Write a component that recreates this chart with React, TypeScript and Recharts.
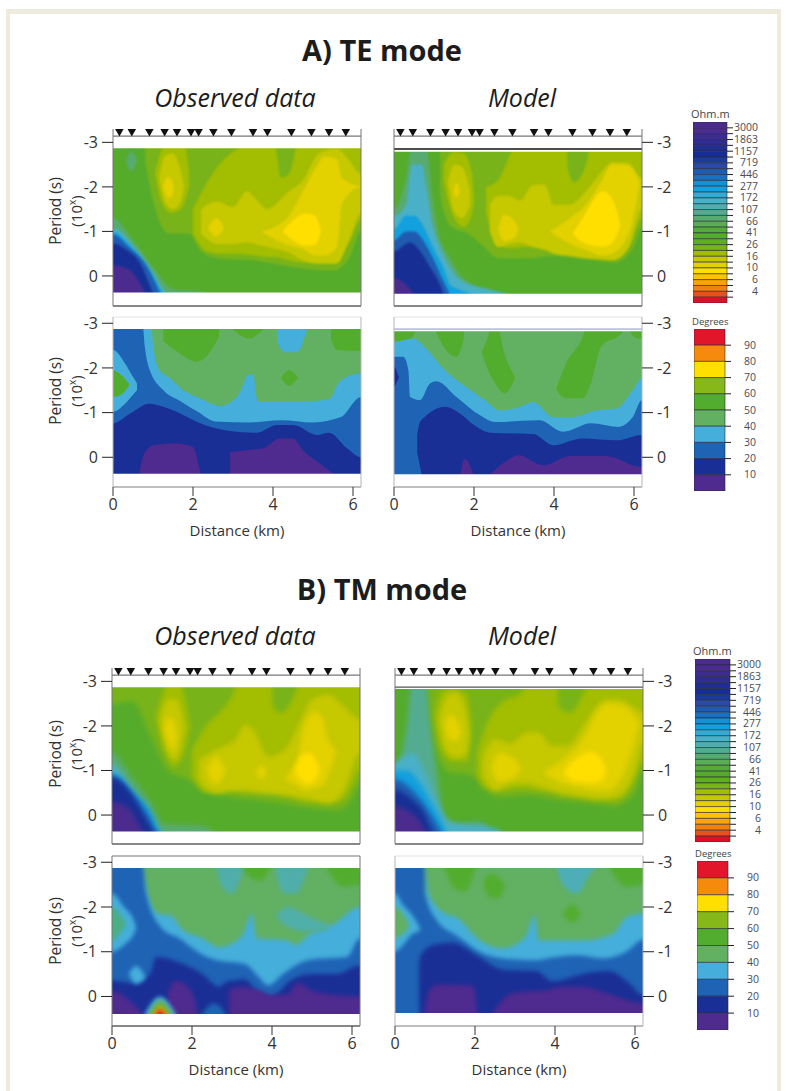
import React from 'react';
import { Area, Bar, BarChart, ComposedChart, ReferenceArea, ReferenceLine, Scatter, XAxis, YAxis } from 'recharts';

type Pt = [number, number, number];
type Band = { level: number; pts: Pt[]; alpha?: number };

const FONT = '"Open Sans", sans-serif';
const T = -3.2; // field edges are masked, so bands may run past them
const B = 0.6;

const stations = [0.16, 0.47, 0.91, 1.29, 1.6, 1.95, 2.14, 2.51, 2.96, 3.5, 3.86, 4.46, 4.96, 5.4, 5.82];
const periodTicks = [-3, -2, -1, 0];
const minorTicks = [-2.7, -2.52, -2.4, -2.3, -2.22, -2.15, -2.1, -1.7, -1.52, -1.4, -1.3, -1.22, -1.15, -1.1, -0.7, -0.52, -0.4, -0.3, -0.22, -0.15, -0.1, 0.3, 0.48, 0.6];
const distanceTicks = [0, 2, 4, 6];

const ohmColors = ['#4b2c8e', '#4b2c8e', '#3d2c90', '#2f2d90', '#1f2e90', '#172f95', '#1a3a9c', '#2a4aa5', '#1f5cb0', '#1a70c0', '#1390d6', '#12a0de', '#35aad4', '#4ab0c8', '#50aeb0', '#54ac90', '#58ab70', '#5aac55', '#55ab3a', '#55ac2b', '#5fae20', '#78b31a', '#a3bd00', '#c6c800', '#e3d100', '#ffdf00', '#ffc400', '#f9a40a', '#f08212', '#e8501c', '#dc1026'];
const ohmLabels = ['3000', '1863', '1157', '719', '446', '277', '172', '107', '66', '41', '26', '16', '10', '6', '4'];
const degColors = ['#e2162b', '#f58a0c', '#ffdf00', '#86b81a', '#52ad2f', '#62b062', '#45aedb', '#1f63b5', '#1a2f96', '#4f2a8f'];
const degLabels = ['90', '80', '70', '60', '50', '40', '30', '20', '10'];

// resistivity levels, as cells of the Ohm.m scale
const PURPLE = 0, NAVY = 5, BLUE = 8, SKY = 11, CYAN = 13, TURQ = 15, TEAL = 16, GREEN = 19, HALO = 21, LIME = 22, OLIVE = 23, GOLD = 24, YELLOW = 25;
// phase levels, as cells of the Degrees scale
const P_RED = 0, P_ORANGE = 1, P_LIME = 3, P_GREEN = 4, P_LIGHT = 5, P_CYAN = 6, P_BLUE = 7, P_NAVY = 8, P_PURPLE = 9;

const teObsRes: Band[] = [
  { level: GREEN, pts: [[0, T, B], [6.2, T, B]] },
  { level: HALO, pts: [[0.8, T, -2.6], [1, T, -1.7], [1.4, T, -0.95], [1.9, T, -0.95], [2.2, T, -0.55], [2.6, T, -0.4], [3.5, T, -0.35], [4.5, T, -0.2], [5.5, T, -0.12], [5.9, T, -0.4], [6.2, T, -1]] },
  { level: LIME, pts: [[1.05, -2.3, -2.3], [1.2, -2.8, -1.7], [1.45, T, -1.42], [1.7, T, -1.5], [1.9, -2.4, -2]] },
  { level: LIME, pts: [[2, -1.5, -0.95], [2.35, -2.1, -0.55], [2.7, -2.55, -0.5], [3.1, -2.85, -0.5], [4, T, -0.42], [4.1, -2.7, -0.42], [4.2, -2.2, -0.4], [4.4, -2.3, -0.35], [4.7, T, -0.3], [5.5, T, -0.28], [5.9, T, -0.75], [6.2, T, -1.25]] },
  { level: OLIVE, pts: [[1.15, -2.2, -2.2], [1.3, -2.7, -1.65], [1.5, -2.75, -1.5], [1.65, -2.5, -1.6], [1.78, -2, -2]] },
  { level: OLIVE, pts: [[2.2, -1.5, -0.95], [2.6, -1.67, -0.72], [3, -1.55, -0.72], [3.35, -1.9, -0.75], [3.6, -1.7, -0.7], [3.85, -1.5, -0.65], [4.4, -1.9, -0.52], [4.75, -2.15, -0.35], [5.15, -2.75, -0.28], [5.6, -2.85, -0.28], [5.9, -2.6, -0.8], [6.2, -2.3, -1.4]] },
  { level: GOLD, pts: [[1.25, -2, -2], [1.37, -2.23, -1.75], [1.5, -2.1, -1.8], [1.52, -2, -2]] },
  { level: GOLD, pts: [[2.38, -1.08, -1.08], [2.58, -1.3, -0.88], [2.78, -1.08, -1.08]] },
  { level: GOLD, pts: [[3.7, -1, -1], [4.3, -1.25, -0.72], [4.75, -1.9, -0.6], [5.05, -2.4, -0.46], [5.3, -2.68, -0.46], [5.6, -2.62, -0.65], [5.73, -2.2, -1.63], [6.2, -2.02, -2]] },
  { level: YELLOW, pts: [[4.24, -1, -1], [4.5, -1.25, -0.8], [4.8, -1.4, -0.68], [5.05, -1.35, -0.7], [5.2, -1, -1]] },
  { level: TEAL, pts: [[0.33, -2.6, -2.6], [0.45, -2.8, -2.35], [0.6, -2.6, -2.6]] },
  { level: TEAL, pts: [[0, -1.3, B], [0.5, -0.8, B], [1, -0.2, B], [1.5, 0.3, B], [2.2, 0.36, B], [2.6, 0.45, B]] },
  { level: CYAN, pts: [[0, -1.07, B], [0.52, -0.65, B], [0.89, -0.2, B], [1.26, 0.32, B], [1.35, 0.45, B]] },
  { level: SKY, pts: [[0, -0.98, B], [0.47, -0.65, B], [0.85, -0.24, B], [1.2, 0.32, B], [1.28, 0.45, B]] },
  { level: BLUE, pts: [[0, -0.92, B], [0.43, -0.62, B], [0.8, -0.28, B], [1.14, 0.32, B], [1.2, 0.45, B]] },
  { level: NAVY, pts: [[0, -0.73, B], [0.35, -0.58, B], [0.68, -0.28, B], [0.97, 0.32, B], [1.03, 0.45, B]] },
  { level: PURPLE, pts: [[0, -0.24, B], [0.43, -0.13, B], [0.68, 0.17, B], [0.8, 0.36, B], [0.85, 0.45, B]] },
];

const teModRes: Band[] = [
  { level: GREEN, pts: [[0, T, B], [6.2, T, B]] },
  { level: HALO, pts: [[1.15, T, -2], [1.2, T, -1.6], [1.45, T, -1.1], [1.85, T, -0.95], [2.2, T, -0.7], [2.6, T, -0.4], [3.3, T, -0.4], [4, T, -0.45], [5, T, -0.35], [5.5, T, -0.3], [6, T, -0.65], [6.2, T, -1.1]] },
  { level: LIME, pts: [[1.25, -2.5, -2.1], [1.5, -2.79, -1.3], [1.75, -2.75, -1.1], [1.95, -2.3, -1.4], [2, -1.8, -1.7]] },
  { level: LIME, pts: [[2.3, -2, -1.4], [2.6, -2.15, -0.7], [2.95, -2.8, -0.62], [3.3, T, -0.65], [4.3, T, -0.65], [4.35, -2.4, -0.65], [4.5, -2.1, -0.6], [4.8, -2.5, -0.55], [5, T, -0.5], [5.5, T, -0.45], [5.95, T, -0.8], [6.2, T, -1.3]] },
  { level: OLIVE, pts: [[1.35, -2.1, -2.1], [1.5, -2.5, -1.45], [1.7, -2.45, -1.3], [1.9, -1.9, -1.6]] },
  { level: OLIVE, pts: [[2.4, -1.6, -1], [2.6, -1.8, -0.65], [2.85, -1.8, -0.7], [3.15, -1.7, -0.75], [3.48, -2.05, -0.65], [3.77, -2.05, -0.58], [4, -1.6, -0.5], [4.4, -1.6, -0.45], [4.8, -1.9, -0.4], [5.2, -2.35, -0.37], [5.45, -2.55, -0.35], [5.85, -2.55, -0.6], [6.2, -2.2, -1.5]] },
  { level: GOLD, pts: [[1.48, -1.9, -1.9], [1.56, -2.1, -1.75], [1.65, -1.9, -1.9]] },
  { level: GOLD, pts: [[2.6, -1.05, -1.05], [2.75, -1.38, -0.78], [3, -1.25, -0.85], [3.12, -1.05, -1.05]] },
  { level: GOLD, pts: [[3.9, -1, -1], [4.4, -1.3, -0.72], [4.8, -1.6, -0.58], [5.2, -2.15, -0.46], [5.45, -2.5, -0.5], [5.85, -2.48, -0.9], [6.15, -2.1, -2.1]] },
  { level: YELLOW, pts: [[4.46, -0.95, -0.95], [4.72, -1.3, -0.75], [5.22, -1.9, -0.65], [5.47, -1.7, -0.75], [5.65, -1.2, -1.1]] },
  { level: TEAL, pts: [[0, -1.5, B], [0.3, -2.2, B], [0.45, -2.9, B], [0.8, -2.9, B], [0.95, -1.8, B], [1.1, -1, B], [1.4, -0.4, B], [1.8, 0.1, B], [2.4, 0.3, B], [3, 0.45, B]] },
  { level: CYAN, pts: [[0, -1.35, B], [0.3, -1.6, B], [0.45, -2.5, B], [0.7, -2.5, B], [0.8, -2, B], [0.95, -1.2, B], [1.2, -0.55, B], [1.5, -0.05, B], [1.9, 0.2, B], [2.3, 0.3, B], [2.9, 0.42, B]] },
  { level: SKY, pts: [[0, -1.05, B], [0.3, -1.35, B], [0.5, -1.35, B], [0.8, -1, B], [1, -0.6, B], [1.25, -0.15, B], [1.4, 0.2, B], [1.7, 0.33, B], [2, 0.42, B]] },
  { level: BLUE, pts: [[0, -0.8, B], [0.3, -1, B], [0.5, -1, B], [0.8, -0.7, B], [1, -0.35, B], [1.2, 0.05, B], [1.4, 0.42, B]] },
  { level: NAVY, pts: [[0, -0.55, B], [0.4, -0.75, B], [0.7, -0.5, B], [0.9, -0.2, B], [1.1, 0.1, B], [1.25, 0.42, B]] },
  { level: PURPLE, pts: [[0, 0.05, B], [0.3, 0.2, B], [0.5, 0.42, B]] },
];

const teObsDeg: Band[] = [
  { level: P_LIGHT, pts: [[0, T, B], [6.2, T, B]] },
  { level: P_GREEN, pts: [[1.26, T, -2.6], [1.6, T, -2.37], [2.1, T, -2.14], [2.4, T, -2.33], [2.65, T, -2.7]] },
  { level: P_GREEN, pts: [[3, T, -2.85], [3.4, T, -2.66], [3.75, T, -2.85]] },
  { level: P_GREEN, pts: [[5.45, T, -2.65], [5.6, T, -2.4], [6.2, T, -2.38]] },
  { level: P_GREEN, pts: [[4.2, -1.78, -1.78], [4.4, -1.95, -1.6], [4.63, -1.78, -1.78]] },
  { level: P_CYAN, pts: [[0.72, T, B], [0.93, T, B], [1, -2.55, B], [1.14, -1.99, B], [1.43, -1.77, B], [1.76, -1.5, B], [2.18, -1.32, B], [2.68, -1.15, B], [3.13, -1.39, B], [3.38, -1.84, B], [3.5, -1.86, B], [3.63, -1.24, B], [4.6, -1.24, B], [5.4, -1.3, B], [5.67, -1.7, B], [6.2, -1.88, B]] },
  { level: P_CYAN, pts: [[4.1, -2.87, -2.6], [4.3, -2.87, -2.35], [4.6, -2.87, -2.35], [4.85, -2.87, -2.87]] },
  { level: P_BLUE, pts: [[0, T, B], [0.72, T, B], [0.8, -2.45, B], [0.9, -2, B], [1.26, -1.5, B], [1.7, -1.25, B], [2.15, -1, B], [2.55, -0.8, B], [3.4, -0.78, B], [4.2, -0.83, B], [5, -0.78, B], [5.7, -0.9, B], [6.2, -1.35, B]] },
  { level: P_CYAN, pts: [[0, -2.4, -1.02], [0.3, -2.1, -1.2], [0.5, -1.8, -1.4], [0.6, -1.65, -1.5]] },
  { level: P_GREEN, pts: [[0, -1.95, -1.35], [0.2, -1.85, -1.4], [0.4, -1.65, -1.6]] },
  { level: P_NAVY, pts: [[0, -0.76, B], [0.43, -0.98, B], [0.9, -1.2, B], [1.26, -1.13, B], [1.68, -0.98, B], [2.18, -0.76, B], [2.84, -0.6, B], [3.6, -0.55, B], [4.1, -0.72, B], [4.5, -0.72, B], [5.1, -0.5, B], [5.4, -0.55, B], [5.85, -0.2, B], [6.2, 0, B]] },
  { level: P_PURPLE, pts: [[0.65, 0.4, B], [0.78, -0.08, B], [1.02, -0.27, B], [1.6, -0.31, B], [2, -0.23, B], [2.13, 0.14, B], [2.2, 0.4, B]] },
  { level: P_PURPLE, pts: [[2.93, -0.12, B], [3.34, -0.16, B], [3.75, -0.2, B], [4.17, -0.42, B], [4.5, -0.42, B], [4.75, -0.16, B], [5.17, 0.14, B], [5.55, 0.4, B]] },
];

const teModDeg: Band[] = [
  { level: P_LIGHT, pts: [[0, T, B], [6.2, T, B]] },
  { level: P_GREEN, pts: [[0, T, -2.6], [0.4, T, -2.65], [0.7, T, T]] },
  { level: P_GREEN, pts: [[1.03, T, -2.85], [1.3, T, -2.4], [1.55, T, -2.25], [1.73, T, -2.6], [1.78, T, T]] },
  { level: P_GREEN, pts: [[2.19, -2.36, -2.36], [2.35, -2.7, -1.95], [2.5, T, -1.7], [2.77, -2.3, -1.43], [3.02, -1.8, -1.75]] },
  { level: P_GREEN, pts: [[4.06, -1.54, -1.5], [4.3, -2.1, -1.32], [4.72, -2.7, -1.32], [4.9, T, -1.6], [5.18, T, -2.48], [5.7, T, -2.78], [5.75, T, T]] },
  { level: P_GREEN, pts: [[5.75, T, T], [6, T, -2.7], [6.2, T, -2.65]] },
  { level: P_CYAN, pts: [[0, -2.58, B], [0.48, -2.66, B], [0.8, -2.44, B], [1.23, -1.99, B], [1.8, -1.58, B], [2.27, -1.28, B], [2.65, -1.05, B], [3.15, -1.13, B], [3.48, -1.24, B], [3.98, -0.9, B], [4.4, -0.89, B], [5.06, -1.05, B], [5.56, -1.09, B], [5.97, -1.5, B], [6.2, -1.77, B]] },
  { level: P_BLUE, pts: [[0, -2.25, B], [0.23, -2.25, B], [0.36, -1.95, B], [0.4, -1.35, B], [0.65, -1.28, B], [0.9, -1.65, B], [1.06, -1.7, B], [1.56, -1.35, B], [2.15, -0.94, B], [2.52, -0.79, B], [3.64, -0.83, B], [4.23, -0.57, B], [4.93, -0.76, B], [5.6, -0.68, B], [5.97, -0.9, B], [6.2, -1.28, B]] },
  { level: P_NAVY, pts: [[0, -2.03, -1.58], [0.08, -1.9, -1.7], [0.12, -1.8, -1.78]] },
  { level: P_NAVY, pts: [[0.58, -0.5, -0.1], [0.65, -0.79, 0.2], [0.77, -0.9, B], [0.9, -1, B], [1.27, -1.13, B], [1.65, -0.98, B], [2, -0.72, B], [2.4, -0.55, B], [3.48, -0.52, B], [3.98, -0.27, B], [4.72, -0.42, B], [5.56, -0.38, B], [6.2, -0.5, B]] },
  { level: P_PURPLE, pts: [[1.65, 0.42, B], [1.77, 0.03, B], [2, 0.42, B]] },
  { level: P_PURPLE, pts: [[2.35, 0.42, B], [2.9, 0.03, B], [3.1, -0.05, B], [3.73, 0.18, B], [4.4, -0.03, B], [5.3, -0.03, B], [6.2, 0.22, B]] },
];

const tmObsRes: Band[] = [
  { level: GREEN, pts: [[0, T, B], [6.2, T, B]] },
  { level: HALO, pts: [[0, T, -2.5], [0.5, T, -2.55], [1, T, -1.7], [1.4, T, -1], [1.9, T, -0.8], [2.3, T, -0.55], [3, T, -0.4], [4, T, -0.3], [5, T, -0.15], [5.6, T, -0.1], [6, T, -0.35], [6.2, T, -0.7]] },
  { level: LIME, pts: [[1.1, -2.2, -2.2], [1.3, -2.8, -1.5], [1.55, T, -1.1], [1.8, -2.7, -1.4], [1.95, -2, -2]] },
  { level: LIME, pts: [[2, -1.46, -0.9], [2.35, -2, -0.5], [2.75, -2.36, -0.55], [3, -2.66, -0.55], [3.25, T, -0.5], [4, T, -0.5], [4.03, -2.44, -0.5], [4.24, -2.29, -0.45], [4.5, -2.58, -0.4], [4.8, T, -0.3], [5.7, T, -0.3], [6, T, -0.65], [6.2, T, -1]] },
  { level: OLIVE, pts: [[1.2, -2.1, -2.1], [1.4, -2.6, -1.4], [1.6, -2.6, -1.25], [1.8, -2, -2]] },
  { level: OLIVE, pts: [[2.18, -1.24, -0.79], [2.6, -1.46, -0.49], [3.1, -1.7, -0.56], [3.33, -2.03, -0.56], [3.58, -1.84, -0.52], [3.9, -1.31, -0.49], [4.32, -1.46, -0.45], [4.65, -1.99, -0.41], [5, -2.59, -0.35], [5.4, -2.7, -0.26], [5.8, -2.44, -0.56], [6.2, -2.14, -1.39]] },
  { level: GOLD, pts: [[1.3, -1.9, -1.9], [1.42, -2.2, -1.6], [1.55, -2.1, -1.45], [1.62, -1.8, -1.8]] },
  { level: GOLD, pts: [[2.35, -1, -1], [2.6, -1.3, -0.7], [2.85, -1, -1]] },
  { level: GOLD, pts: [[3.58, -1, -1], [3.75, -1.1, -0.8], [3.87, -0.95, -0.95]] },
  { level: GOLD, pts: [[4.32, -0.85, -0.8], [4.65, -1.31, -0.65], [4.8, -1.99, -0.55], [5.06, -2.32, -0.6], [5.27, -2.2, -0.67], [5.35, -1.84, -0.8], [5.6, -1.46, -1.4]] },
  { level: YELLOW, pts: [[4.55, -1, -1], [4.75, -1.35, -0.75], [4.95, -1.4, -0.7], [5.2, -1, -1]] },
  { level: TEAL, pts: [[0, -1.4, B], [0.5, -0.85, B], [1, -0.25, B], [1.3, 0.2, B], [2.3, 0.25, B], [2.6, 0.45, B]] },
  { level: CYAN, pts: [[0, -1.13, B], [0.45, -0.64, B], [0.86, -0.11, B], [1.23, 0.37, B], [1.3, 0.45, B]] },
  { level: SKY, pts: [[0, -0.94, B], [0.53, -0.52, B], [0.99, -0.04, B], [1.19, 0.37, B], [1.25, 0.45, B]] },
  { level: BLUE, pts: [[0, -0.88, B], [0.53, -0.47, B], [0.9, 0, B], [1.11, 0.37, B], [1.17, 0.45, B]] },
  { level: NAVY, pts: [[0, -0.83, B], [0.53, -0.41, B], [0.82, 0.04, B], [1.03, 0.37, B], [1.09, 0.45, B]] },
  { level: PURPLE, pts: [[0, -0.3, B], [0.37, -0.19, B], [0.62, 0.11, B], [0.78, 0.37, B], [0.83, 0.45, B]] },
];

const tmModRes: Band[] = [
  { level: GREEN, pts: [[0, T, B], [6.2, T, B]] },
  { level: HALO, pts: [[0.8, T, -2.4], [1, T, -1.5], [1.4, T, -0.95], [1.9, T, -0.9], [2.2, T, -0.6], [2.6, T, -0.4], [3.3, T, -0.45], [4, T, -0.35], [5, T, -0.25], [5.5, T, -0.2], [6, T, -0.5], [6.2, T, -1]] },
  { level: LIME, pts: [[0.98, -2.2, -2.2], [1.15, -2.75, -1.5], [1.45, -2.85, -1.2], [1.8, -2.7, -1.2], [1.9, -2.1, -1.7]] },
  { level: LIME, pts: [[2.05, -1.4, -0.9], [2.3, -2.05, -0.6], [2.7, -2.55, -0.55], [3.1, -2.7, -0.6], [3.6, T, -0.55], [4.05, T, -0.5], [4.1, -2.4, -0.45], [4.4, -2.3, -0.42], [4.7, -2.7, -0.38], [5, T, -0.33], [5.5, T, -0.32], [5.95, T, -0.7], [6.2, T, -1.2]] },
  { level: OLIVE, pts: [[1.1, -2.1, -2.1], [1.25, -2.6, -1.5], [1.5, -2.75, -1.3], [1.75, -2.4, -1.35], [1.85, -1.8, -1.8]] },
  { level: OLIVE, pts: [[2.2, -1.3, -0.9], [2.5, -1.7, -0.55], [2.9, -1.6, -0.7], [3.3, -1.85, -0.72], [3.6, -1.85, -0.65], [3.9, -1.55, -0.55], [4.3, -1.55, -0.48], [4.7, -2, -0.42], [5.05, -2.45, -0.38], [5.3, -2.6, -0.38], [5.6, -2.6, -0.45], [6, -2.4, -1], [6.2, -2.3, -1.6]] },
  { level: GOLD, pts: [[1.25, -2, -2], [1.35, -2.25, -1.7], [1.55, -2.15, -1.65], [1.65, -1.9, -1.9]] },
  { level: GOLD, pts: [[2.4, -1.05, -1.05], [2.6, -1.4, -0.75], [3, -1.25, -0.85], [3.15, -1.05, -1.05]] },
  { level: GOLD, pts: [[3.7, -0.95, -0.95], [4.2, -1.25, -0.7], [4.7, -1.7, -0.6], [5.05, -2.3, -0.55], [5.3, -2.5, -0.55], [5.7, -2.45, -0.9], [6.1, -2.1, -2]] },
  { level: YELLOW, pts: [[4.2, -0.95, -0.95], [4.5, -1.25, -0.75], [4.9, -1.42, -0.72], [5.2, -1.2, -0.8], [5.28, -1, -1]] },
  { level: TURQ, pts: [[0, -1.1, B], [0.19, -1.46, B], [0.32, -2.2, B], [0.4, -2.9, B], [0.77, -2.9, B], [0.9, -1.85, B], [1.02, -1.1, B], [1.23, 0, B], [1.6, 0.2, B], [2.1, 0.15, B], [2.43, 0.37, B], [2.6, 0.45, B]] },
  { level: CYAN, pts: [[0, -1.15, B], [0.13, -1.25, B], [0.45, -1.39, B], [0.7, -1.05, B], [0.95, -0.5, B], [1.15, -0.1, B], [1.3, 0.15, B], [1.7, 0.22, B], [2.5, 0.3, B], [2.7, 0.42, B]] },
  { level: SKY, pts: [[0, -1, B], [0.3, -1, B], [0.6, -0.75, B], [0.9, -0.3, B], [1.15, 0.1, B], [1.3, 0.42, B]] },
  { level: BLUE, pts: [[0, -0.79, B], [0.44, -0.56, B], [0.77, -0.19, B], [1.15, 0.37, B], [1.2, 0.45, B]] },
  { level: NAVY, pts: [[0, -0.56, B], [0.4, -0.37, B], [0.73, -0.04, B], [0.94, 0.37, B], [1, 0.45, B]] },
  { level: PURPLE, pts: [[0, -0.19, B], [0.3, -0.11, B], [0.6, 0.11, B], [0.77, 0.37, B], [0.82, 0.45, B]] },
];

const tmObsDeg: Band[] = [
  { level: P_LIGHT, pts: [[0, T, B], [6.2, T, B]] },
  { level: P_GREEN, pts: [[3.25, T, -2.85], [3.7, T, -2.58], [3.95, T, -2.85]] },
  { level: P_GREEN, pts: [[5.4, T, -2.8], [5.8, T, -2.45], [6.2, T, -2.5]] },
  { level: P_CYAN, pts: [[0.73, T, B], [0.85, -2.45, B], [1.15, -1.85, B], [1.5, -1.8, B], [1.75, -1.5, B], [2.26, -1.3, B], [2.67, -1.1, B], [3.25, -1.35, B], [3.5, -1.85, B], [3.62, -1.3, B], [4.4, -1.25, B], [4.56, -1.15, B], [4.97, -1.41, B], [5.38, -1.52, B], [5.63, -1.67, B], [6.2, -2, B]] },
  { level: P_CYAN, alpha: 0.6, pts: [[2.6, -2.9, -2.9], [2.75, T, -2.45], [3, T, -2.3], [3.2, T, -2.6], [3.3, -2.9, -2.9]] },
  { level: P_CYAN, alpha: 0.6, pts: [[4.1, -2.87, -2.75], [4.3, T, -2.3], [4.6, T, -2.3], [4.9, -2.87, -2.87]] },
  { level: P_CYAN, alpha: 0.6, pts: [[4.1, -1.8, -1.8], [4.4, -2, -1.55], [4.9, -1.8, -1.45], [5.3, -1.65, -1.5], [5.5, -1.6, -1.55]] },
  { level: P_BLUE, pts: [[0, T, B], [0.73, T, B], [0.85, -2.3, B], [1.27, -1.5, B], [1.68, -1.3, B], [2.17, -0.98, B], [2.58, -0.82, B], [3.33, -0.72, B], [3.65, -0.45, B], [3.9, -0.25, B], [4.3, -0.52, B], [4.95, -0.82, B], [5.87, -0.88, B], [6.2, -1.3, B]] },
  { level: P_CYAN, pts: [[0, -2.3, -1], [0.3, -2, -1.15], [0.55, -1.7, -1.4], [0.6, -1.55, -1.5]] },
  { level: P_GREEN, alpha: 0.5, pts: [[0, -2, -1.25], [0.2, -1.85, -1.4], [0.35, -1.65, -1.6]] },
  { level: P_NAVY, pts: [[0, -0.35, B], [0.5, -0.3, B], [0.95, -0.5, B], [1.1, -0.88, B], [1.68, -0.76, B], [2.26, -0.5, B], [2.67, -0.22, B], [2.9, -0.34, B], [3.33, -0.38, B], [3.65, -0.08, B], [3.98, 0, B], [4.47, -0.36, B], [4.95, -0.5, B], [5.6, -0.5, B], [6.2, -0.69, B]] },
  { level: P_CYAN, pts: [[0.42, -0.5, -0.5], [0.6, -0.68, -0.28], [0.83, -0.45, -0.4]] },
  { level: P_PURPLE, pts: [[0, -0.12, B], [0.45, 0.1, B], [0.78, 0.4, B]] },
  { level: P_PURPLE, pts: [[1.4, -0.1, B], [1.6, -0.35, B], [2, -0.1, B], [2.15, 0.4, B]] },
  { level: P_PURPLE, pts: [[2.92, -0.15, B], [3.25, -0.22, B], [3.65, -0.15, B], [3.98, -0.03, B], [4.4, -0.05, B], [4.63, -0.3, B], [5.1, -0.1, B], [6.2, 0, B]] },
  { level: P_BLUE, pts: [[2.25, 0.4, B], [2.55, 0.15, B], [2.85, 0.4, B]] },
  { level: P_CYAN, pts: [[0.82, 0.4, B], [1.2, 0, B], [1.6, 0.4, B]] },
  { level: P_LIGHT, pts: [[0.9, 0.4, B], [1.2, 0.08, B], [1.52, 0.4, B]] },
  { level: P_LIME, pts: [[1, 0.4, B], [1.2, 0.17, B], [1.42, 0.4, B]] },
  { level: P_ORANGE, pts: [[1.05, 0.4, B], [1.2, 0.25, B], [1.35, 0.4, B]] },
  { level: P_RED, pts: [[1.1, 0.4, B], [1.2, 0.31, B], [1.3, 0.4, B]] },
];

const tmModDeg: Band[] = [
  { level: P_LIGHT, pts: [[0, T, B], [6.2, T, B]] },
  { level: P_GREEN, pts: [[1.25, T, -2.85], [1.5, T, -2.4], [1.75, T, -2.35], [2, T, -2.85]] },
  { level: P_GREEN, pts: [[2.2, -2.55, -2.55], [2.4, -2.75, -2.2], [2.6, -2.65, -2.2], [2.75, -2.5, -2.5]] },
  { level: P_GREEN, pts: [[5.4, T, -2.8], [5.8, T, -2.45], [6.2, T, -2.5]] },
  { level: P_GREEN, pts: [[4.2, -1.85, -1.85], [4.42, -2.05, -1.65], [4.65, -1.85, -1.85]] },
  { level: P_CYAN, pts: [[0.73, T, B], [0.85, -2.3, B], [1.2, -1.88, B], [1.57, -1.75, B], [2.1, -1.27, B], [2.7, -1.08, B], [3.27, -1.34, B], [3.48, -1.82, B], [3.6, -1.25, B], [4.7, -1.25, B], [5.45, -1.4, B], [5.8, -1.78, B], [6.2, -1.85, B]] },
  { level: P_CYAN, alpha: 0.7, pts: [[4.05, -2.87, -2.85], [4.2, T, -2.5], [4.55, T, -2.3], [4.85, T, -2.7], [5, -2.87, -2.87]] },
  { level: P_BLUE, pts: [[0, T, B], [0.73, T, B], [0.75, -2.3, B], [1.07, -1.67, B], [1.53, -1.37, B], [2.2, -0.96, B], [2.7, -0.85, B], [3.53, -0.81, B], [4.03, -0.88, B], [4.53, -0.92, B], [5.2, -0.85, B], [5.78, -1, B], [6.2, -1.27, B]] },
  { level: P_CYAN, pts: [[0, -2.3, -1], [0.2, -2.05, -1.15], [0.45, -1.8, -1.4], [0.62, -1.55, -1.45]] },
  { level: P_LIGHT, pts: [[0, -2, -1.3], [0.2, -1.85, -1.4], [0.35, -1.6, -1.55]] },
  { level: P_NAVY, pts: [[0.6, -0.55, -0.1], [0.62, -0.88, 0.4], [0.95, -1.15, B], [1.44, -1.2, B], [2.1, -0.88, B], [2.7, -0.6, B], [3.53, -0.57, B], [3.95, -0.34, B], [4.37, -0.42, B], [4.7, -0.5, B], [5.35, -0.57, B], [5.85, -0.3, B], [6.2, -0.03, B]] },
  { level: P_PURPLE, pts: [[0.73, 0.42, B], [0.82, -0.05, B], [1.03, -0.27, B], [1.95, -0.24, B], [2.07, 0.42, B]] },
  { level: P_PURPLE, pts: [[2.4, 0.42, B], [2.94, -0.08, B], [3.85, -0.15, B], [4.1, -0.22, B], [4.7, -0.22, B], [5.2, -0.1, B], [6.2, 0.15, B]] },
];

const plotW = 248;
const plotTicks = (domain: [number, number]) => minorTicks.filter(v => v > domain[0] && v < domain[1]);

const buildRows = (bands: Band[]) => {
  const rows = new Map<number, Record<string, any>>();
  const put = (x: number, key: string, lo: number, hi: number) => {
    if (!rows.has(x)) rows.set(x, { x });
    rows.get(x)![key] = [lo, hi];
  };
  bands.forEach((band, i) => {
    band.pts.forEach(([x, lo, hi]) => {
      put(x, `b${i}`, lo, hi);
      // run past the clipped sides so the soft edge never shows there
      if (x === 0) put(-0.3, `b${i}`, lo, hi);
      if (x === 6.2) put(6.5, `b${i}`, lo, hi);
    });
  });
  return [...rows.values()].sort((a, b) => a.x - b.x);
};

const Triangle = (props: any) => {
  const { cx, cy } = props;
  return <path d={`M${cx - 4.5} ${cy - 4}L${cx + 4.5} ${cy - 4}L${cx} ${cy + 4}Z`} fill="#111" />;
};

type PanelProps = {
  bands: Band[];
  colors: string[];
  left: number; // screen x of distance 0
  top: number; // screen y of plot top
  height: number;
  domain: [number, number];
  field: [number, number];
  side: 'left' | 'right';
  soft: number;
  showStations?: boolean;
  showDistance?: boolean;
  faint?: boolean;
  edgeLine?: { y: number; color: string; width: number };
};

const Panel = ({ bands, colors, left, top, height, domain, field, side, soft, showStations, showDistance, faint, edgeLine }: PanelProps) => {
  const rows = buildRows(bands);
  const other = side === 'left' ? 'right' : 'left';
  const chartLeft = side === 'left' ? left - 50 : left - 14;
  const bottomSpace = showDistance ? 56 : 4;
  const axisStroke = faint ? '#b5b5b5' : '#777';
  return (
    <div style={{ position: 'absolute', left: chartLeft, top: top - 8, ['--soft' as any]: `${soft}px` }}>
      <ComposedChart
        width={plotW + 64}
        height={height + 8 + bottomSpace}
        data={rows}
        margin={{ top: 8, right: 0, bottom: 0, left: 0 }}
      >
        <XAxis
          dataKey="x"
          type="number"
          domain={[0, 6.2]}
          ticks={distanceTicks}
          allowDataOverflow
          height={bottomSpace}
          interval={0}
          stroke={axisStroke}
          tick={showDistance ? { fontSize: 16, fill: '#333', fontFamily: FONT } : false}
          tickLine={showDistance ? { stroke: '#333' } : false}
          tickSize={9}
          tickMargin={3}
          label={showDistance ? { value: 'Distance (km)', position: 'insideBottom', offset: 7, fontSize: 15, fill: '#333', fontFamily: FONT } : undefined}
        />
        <YAxis
          orientation={side}
          reversed
          type="number"
          domain={domain}
          allowDataOverflow
          ticks={periodTicks}
          interval={0}
          width={50}
          stroke={axisStroke}
          tickLine={{ stroke: '#222' }}
          tick={{ fontSize: 16, fill: '#333', fontFamily: FONT }}
          tickSize={11}
          tickMargin={4}
        />
        <YAxis
          yAxisId="stub"
          orientation={other}
          reversed
          type="number"
          domain={domain}
          allowDataOverflow
          ticks={periodTicks}
          interval={0}
          width={14}
          stroke={axisStroke}
          tickLine={{ stroke: '#222' }}
          tick={false}
          tickSize={11}
        />
        <YAxis yAxisId="minorA" mirror orientation="left" reversed type="number" domain={domain} allowDataOverflow ticks={plotTicks(domain)} interval={0} width={1} axisLine={false} tick={false} tickLine={{ stroke: '#999' }} tickSize={3} />
        <YAxis yAxisId="minorB" mirror orientation="right" reversed type="number" domain={domain} allowDataOverflow ticks={plotTicks(domain)} interval={0} width={1} axisLine={false} tick={false} tickLine={{ stroke: '#999' }} tickSize={3} />
        {bands.map((band, i) => (
          <Area
            key={i}
            dataKey={`b${i}`}
            type="monotone"
            connectNulls
            stroke="none"
            fill={colors[band.level]}
            fillOpacity={band.alpha ?? 1}
            dot={false}
            activeDot={false}
            isAnimationActive={false}
          />
        ))}
        <ReferenceArea x1={0} x2={6.2} y1={domain[0]} y2={field[0]} fill="#fff" fillOpacity={1} stroke="none" ifOverflow="hidden" />
        <ReferenceArea x1={0} x2={6.2} y1={field[1]} y2={domain[1]} fill="#fff" fillOpacity={1} stroke="none" ifOverflow="hidden" />
        {showStations ? <Scatter data={stations.map(x => ({ x, y: -3.22 }))} dataKey="y" shape={Triangle} isAnimationActive={false} /> : null}
        <ReferenceLine y={-3.14} stroke={faint ? '#e4e4e4' : axisStroke} strokeWidth={1.2} />
        <ReferenceLine y={domain[1]} stroke={axisStroke} strokeWidth={1.5} />
        {edgeLine ? <ReferenceLine y={edgeLine.y} stroke={edgeLine.color} strokeWidth={edgeLine.width} /> : null}
      </ComposedChart>
    </div>
  );
};

const ScaleTick = (props: any) => {
  const { y, payload, labelX, labels, every } = props;
  const i = payload.value - 1;
  if (i % every !== 0) return <g />;
  return (
    <text x={labelX} y={y + 3.5} textAnchor="end" fontSize={10.5} fill="#4a4a55" fontFamily={FONT}>
      {labels[i / every]}
    </text>
  );
};

type ScaleProps = { colors: string[]; labels: string[]; every: number; left: number; top: number; width: number; height: number; title: string; titleSize: number };

const ColorScale = ({ colors, labels, every, left, top, width, height, title, titleSize }: ScaleProps) => {
  const row: Record<string, any> = { name: 'scale' };
  colors.forEach((_, i) => {
    row[`c${i}`] = 1;
  });
  const ticks = colors.slice(1).map((_, i) => i + 1);
  return (
    <div style={{ position: 'absolute', left, top }}>
      <div style={{ position: 'absolute', left: -2, top: -titleSize - 5, fontFamily: FONT, fontSize: titleSize, color: '#444', whiteSpace: 'nowrap' }}>{title}</div>
      <BarChart width={width + 36} height={height} data={[row]} barCategoryGap={0} margin={{ top: 0, right: 0, bottom: 0, left: 0 }}>
        <XAxis dataKey="name" hide />
        <YAxis
          orientation="right"
          reversed
          type="number"
          domain={[0, colors.length]}
          ticks={ticks}
          interval={0}
          width={36}
          axisLine={false}
          tickLine={{ stroke: '#222' }}
          tickSize={6}
          tick={(p: any) => <ScaleTick {...p} labelX={width + 31} labels={labels} every={every} />}
        />
        {colors.map((c, i) => (
          <Bar key={i} dataKey={`c${i}`} stackId="s" fill={c} stroke="#2a2a3a" strokeWidth={0.6} isAnimationActive={false} />
        ))}
      </BarChart>
    </div>
  );
};

const Heading = ({ x, y, size, bold, italic, children }: any) => (
  <div style={{ position: 'absolute', left: x - 150, top: y - size, width: 300, textAlign: 'center', lineHeight: `${size * 2}px`, fontFamily: FONT, fontSize: size, fontWeight: bold ? 700 : 400, fontStyle: italic ? 'italic' : 'normal', color: '#1c1c1c' }}>
    {children}
  </div>
);

const PeriodLabel = ({ y }: { y: number }) => (
  <>
    <div style={{ position: 'absolute', left: 55 - 60, top: y - 12, width: 120, textAlign: 'center', lineHeight: '24px', fontFamily: FONT, fontSize: 15.5, color: '#333', transform: 'rotate(-90deg)' }}>Period (s)</div>
    <div style={{ position: 'absolute', left: 76 - 60, top: y - 10, width: 120, textAlign: 'center', lineHeight: '20px', fontFamily: FONT, fontSize: 15, color: '#333', transform: 'rotate(-90deg)' }}>
      (10<sup style={{ fontSize: 10, lineHeight: 0 }}>x</sup>)
    </div>
  </>
);

export default function App() {
  return (
    <div style={{ position: 'absolute', left: 0, top: 0, width: 790, height: 1091, background: '#fff', overflow: 'hidden' }}>
      <style>{`.recharts-area-area{filter:blur(var(--soft))}`}</style>
      <div style={{ position: 'absolute', left: 6, top: 9, width: 775, height: 1100, boxSizing: 'border-box', border: '4px solid #eeeadd', borderTopWidth: 5 }} />

      <Heading x={382} y={50} size={29} bold>A) TE mode</Heading>
      <Heading x={235} y={97} size={25} italic>Observed data</Heading>
      <Heading x={522} y={97} size={25} italic>Model</Heading>
      <PeriodLabel y={211} />
      <PeriodLabel y={391} />

      <Panel bands={teObsRes} colors={ohmColors} left={113} top={129} height={177} domain={[-3.3, 0.675]} field={[-2.87, 0.37]} side="left" soft={1.2} showStations />
      <Panel bands={teModRes} colors={ohmColors} left={394} top={129} height={177} domain={[-3.3, 0.675]} field={[-2.79, 0.4]} side="right" soft={1} showStations edgeLine={{ y: -2.85, color: '#111', width: 1.5 }} />
      <Panel bands={teObsDeg} colors={degColors} left={113} top={317} height={170} domain={[-3.14, 0.665]} field={[-2.87, 0.37]} side="left" soft={0.7} showDistance faint />
      <Panel bands={teModDeg} colors={degColors} left={394} top={317} height={170} domain={[-3.14, 0.665]} field={[-2.82, 0.38]} side="right" soft={0.5} showDistance faint edgeLine={{ y: -2.87, color: '#8a94c4', width: 1 }} />

      <ColorScale colors={ohmColors} labels={ohmLabels} every={2} left={693} top={122} width={34} height={181} title="Ohm.m" titleSize={11} />
      <ColorScale colors={degColors} labels={degLabels} every={1} left={694} top={329} width={31} height={162} title="Degrees" titleSize={9.5} />

      <Heading x={382} y={589} size={29} bold>B) TM mode</Heading>
      <Heading x={235} y={635} size={25} italic>Observed data</Heading>
      <Heading x={522} y={635} size={25} italic>Model</Heading>
      <PeriodLabel y={754} />
      <PeriodLabel y={931} />

      <Panel bands={tmObsRes} colors={ohmColors} left={112} top={668} height={176} domain={[-3.3, 0.65]} field={[-2.87, 0.37]} side="left" soft={2.5} showStations />
      <Panel bands={tmModRes} colors={ohmColors} left={395} top={668} height={176} domain={[-3.3, 0.65]} field={[-2.83, 0.37]} side="right" soft={2.5} showStations edgeLine={{ y: -2.87, color: '#555', width: 1.2 }} />
      <Panel bands={tmObsDeg} colors={degColors} left={112} top={856} height={170} domain={[-3.14, 0.66]} field={[-2.87, 0.39]} side="left" soft={2} showDistance />
      <Panel bands={tmModDeg} colors={degColors} left={395} top={856} height={170} domain={[-3.14, 0.66]} field={[-2.87, 0.37]} side="right" soft={2} showDistance faint />

      <ColorScale colors={ohmColors} labels={ohmLabels} every={2} left={695} top={659} width={35} height={183} title="Ohm.m" titleSize={11} />
      <ColorScale colors={degColors} labels={degLabels} every={1} left={697} top={861} width={31} height={169} title="Degrees" titleSize={9.5} />
    </div>
  );
}
